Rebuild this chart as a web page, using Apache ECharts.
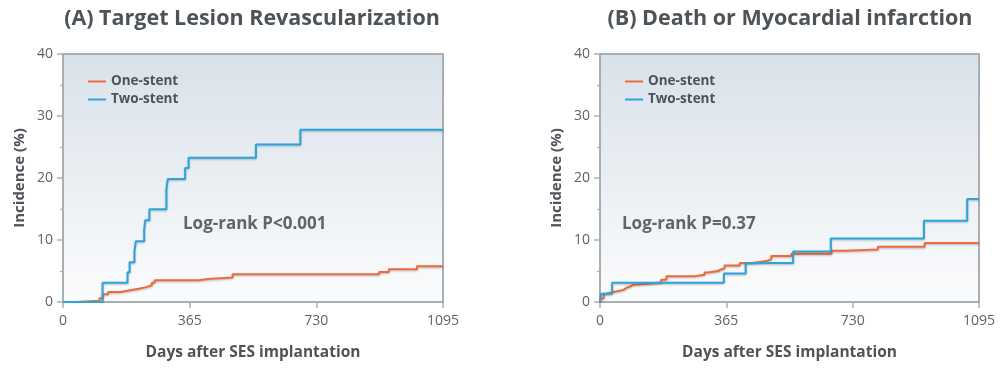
<!DOCTYPE html>
<html>
<head>
<meta charset="utf-8">
<script src="https://cdn.jsdelivr.net/npm/echarts@6/dist/echarts.min.js"></script>
<style>
html,body{margin:0;padding:0;background:#fff;}
#c{width:1000px;height:368px;}
</style>
</head>
<body>
<div id="c"></div>
<script>
// ---- data ----
var xTicks = [0, 365, 730, 1095];
var yTicks = [0, 10, 20, 30, 40];
var seriesNames = ['One-stent', 'Two-stent'];

var aOneDays = [0, 38, 105, 115, 130, 165, 194, 218, 240, 256, 264, 390, 417, 489, 911, 939, 1020, 1095];
var aOneVals = [0, 0.2, 0.6, 1.25, 1.6, 1.9, 2.15, 2.4, 2.7, 3.1, 3.5, 3.7, 3.95, 4.47, 4.85, 5.3, 5.75, 5.75];

var aTwoDays = [0, 114, 186, 192, 206, 210, 234, 237, 249, 298, 302, 352, 362, 556, 684, 1095];
var aTwoVals = [0, 3.1, 4.8, 6.4, 8.2, 9.8, 11.6, 13.2, 14.95, 18.2, 19.85, 21.6, 23.25, 25.4, 27.8, 27.8];

var bOneDays = [0, 3, 11, 18, 38, 57, 69, 76, 86, 97, 166, 177, 192, 272, 302, 312, 341, 348, 360, 404, 442, 461, 481, 495, 553, 669, 707, 803, 938, 1095];
var bOneVals = [0, 0.6, 1.35, 1.6, 1.8, 2.0, 2.27, 2.5, 2.8, 3.07, 3.2, 3.6, 4.15, 4.4, 4.75, 5.0, 5.2, 5.45, 5.9, 6.3, 6.46, 6.6, 6.9, 7.4, 7.8, 8.25, 8.45, 8.9, 9.5, 9.5];

var bTwoDays = [0, 3, 35, 358, 421, 558, 667, 936, 1061, 1095];
var bTwoVals = [0, 1.35, 3.1, 4.6, 6.3, 8.15, 10.25, 13.1, 16.6, 16.6];

var titles = ['(A) Target Lesion Revascularization', '(B) Death or Myocardial infarction'];
var pTexts = ['Log-rank P<0.001', 'Log-rank P=0.37'];
var xName = 'Days after SES implantation';
var yName = 'Incidence (%)';

// ---- chart ----
function zip(d, v) { return d.map(function (x, i) { return [x, v[i]]; }); }

var FONT = '"Open Sans", "Noto Sans", sans-serif';
var ORANGE = '#ef6b3b';
var BLUE = '#2ba5de';
var AXIS = '#a7aeb4';
var TXT = '#4c5359';

var grids = [
  { left: 63, top: 54, width: 380, height: 248 },
  { left: 600, top: 54, width: 379, height: 248 }
];

function xAxis(i) {
  return {
    type: 'value', gridIndex: i, min: 0, max: 1095,
    interval: 365,
    name: xName, nameLocation: 'middle', nameGap: 43,
    nameTextStyle: { fontFamily: FONT, fontWeight: 'bold', fontSize: 15.5, color: TXT },
    axisLine: { show: true, lineStyle: { color: AXIS, width: 2 } },
    axisTick: { show: true, length: 6, lineStyle: { color: AXIS, width: 1.5 } },
    axisLabel: { fontFamily: FONT, fontSize: 14, color: '#5c6369', margin: 12,
      formatter: function (v) { return xTicks.indexOf(v) >= 0 ? String(v) : ''; } },
    splitLine: { show: false }
  };
}
function yAxis(i) {
  return {
    type: 'value', gridIndex: i, min: 0, max: 40, interval: 10,
    name: yName, nameLocation: 'middle', nameGap: 36,
    nameTextStyle: { fontFamily: FONT, fontWeight: 'bold', fontSize: 15, color: TXT },
    axisLine: { show: true, lineStyle: { color: AXIS, width: 2 } },
    axisTick: { show: true, length: 6, lineStyle: { color: AXIS, width: 1.5 } },
    minorTick: { show: true, splitNumber: 2, length: 3, lineStyle: { color: AXIS, width: 1.2 } },
    axisLabel: { fontFamily: FONT, fontSize: 14, color: '#5c6369', margin: 10,
      formatter: function (v) { return yTicks.indexOf(v) >= 0 ? String(v) : ''; } },
    splitLine: { show: false }
  };
}
function lineSeries(name, color, data, i) {
  return {
    name: name, type: 'line', step: 'end', xAxisIndex: i, yAxisIndex: i,
    data: data, symbol: 'none', animation: false,
    lineStyle: { color: color, width: 2, shadowColor: 'rgba(0,0,0,0.25)', shadowBlur: 2, shadowOffsetY: 1 },
    itemStyle: { color: color }
  };
}
function legend(left) {
  return {
    data: seriesNames, orient: 'vertical', left: left, top: 69, itemGap: 3,
    icon: 'rect', itemWidth: 18, itemHeight: 2, itemStyle: { borderWidth: 0 },
    textStyle: { fontFamily: FONT, fontWeight: 'bold', fontSize: 13.5, color: TXT, lineHeight: 15, padding: [0, 0, 0, 0] },
    selectedMode: false
  };
}
var gridStyle = {
  show: true, borderColor: AXIS, borderWidth: 2,
  backgroundColor: new echarts.graphic.LinearGradient(0, 0, 0, 1, [
    { offset: 0, color: '#d9e1e9' }, { offset: 1, color: '#fbfcfd' }
  ])
};

var chart = echarts.init(document.getElementById('c'), null, { renderer: 'canvas' });
chart.setOption({
  animation: false,
  grid: grids.map(function (g) { return Object.assign({}, g, gridStyle); }),
  xAxis: [xAxis(0), xAxis(1)],
  yAxis: [yAxis(0), yAxis(1)],
  legend: [legend(83), legend(620)],
  series: [
    lineSeries(seriesNames[0], ORANGE, zip(aOneDays, aOneVals), 0),
    lineSeries(seriesNames[1], BLUE, zip(aTwoDays, aTwoVals), 0),
    lineSeries(seriesNames[0], ORANGE, zip(bOneDays, bOneVals), 1),
    lineSeries(seriesNames[1], BLUE, zip(bTwoDays, bTwoVals), 1)
  ],
  graphic: [
    { type: 'text', x: 252, y: 19, style: { text: titles[0], font: 'bold 21.5px ' + FONT, fill: TXT, textAlign: 'center', textVerticalAlign: 'middle' } },
    { type: 'text', x: 790, y: 19, style: { text: titles[1], font: 'bold 21.5px ' + FONT, fill: TXT, textAlign: 'center', textVerticalAlign: 'middle' } },
    { type: 'text', x: 183, y: 224, z: 10, style: { text: pTexts[0], font: 'bold 17px ' + FONT, fill: '#5e656b', textAlign: 'left', textVerticalAlign: 'middle' } },
    { type: 'text', x: 622, y: 224, z: 10, style: { text: pTexts[1], font: 'bold 17px ' + FONT, fill: '#5e656b', textAlign: 'left', textVerticalAlign: 'middle' } }
  ]
});
</script>
</body>
</html>
